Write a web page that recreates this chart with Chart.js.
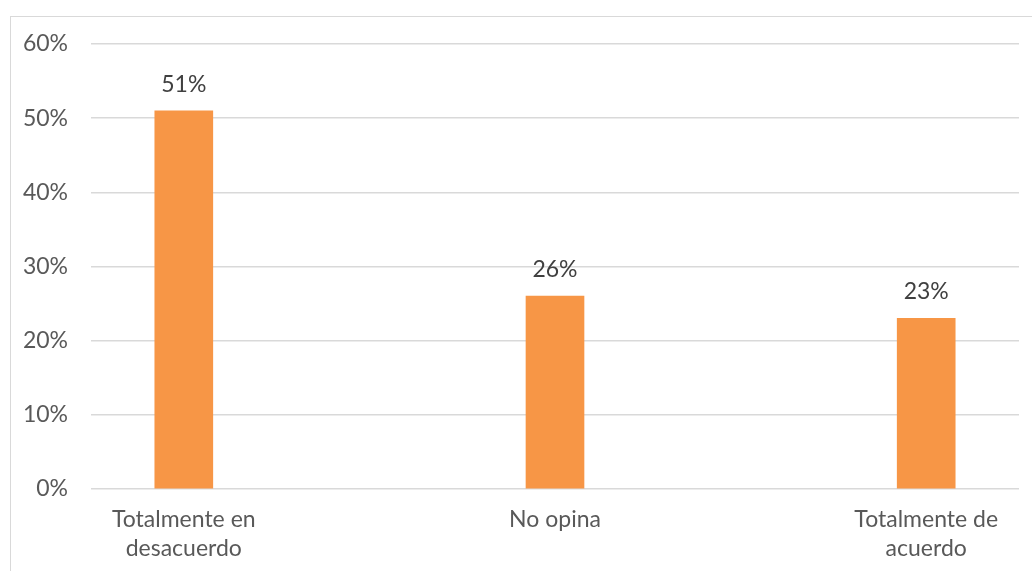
<!DOCTYPE html>
<html>
<head>
<meta charset="utf-8">
<script src="https://cdn.jsdelivr.net/npm/chart.js@4.4.1/dist/chart.umd.min.js"></script>
<style>
  html, body { margin: 0; padding: 0; background: #fff; overflow: hidden; }
  #frame { position: absolute; left: 10px; top: 16px; width: 1100px; height: 700px; border: 1.5px solid #d9d9d9; }
  #wrap { position: absolute; left: 0; top: 0; width: 1032px; height: 571px; }
</style>
</head>
<body>
<div id="frame"></div>
<div id="wrap"><canvas id="chart"></canvas></div>
<script>
const categories = [["Totalmente en", "desacuerdo"], ["No opina"], ["Totalmente de", "acuerdo"]];
const percents = [51, 26, 23];
const yTicks = [0, 10, 20, 30, 40, 50, 60];

const FONT = "Lato";

// labels above each bar
const valueLabels = {
  id: 'valueLabels',
  afterDatasetsDraw(chart) {
    const ctx = chart.ctx;
    const meta = chart.getDatasetMeta(0);
    ctx.save();
    ctx.font = '23px ' + FONT;
    ctx.fillStyle = '#404040';
    ctx.textAlign = 'center';
    ctx.textBaseline = 'alphabetic';
    meta.data.forEach((bar, i) => {
      ctx.fillText(percents[i] + '%', bar.x, bar.y - 19);
    });
    ctx.restore();
  }
};

new Chart(document.getElementById('chart'), {
  type: 'bar',
  data: {
    datasets: [{
      data: percents.map((v, i) => ({ x: i, y: v })),
      backgroundColor: '#F79646',
      barThickness: 58
    }]
  },
  options: {
    responsive: true,
    maintainAspectRatio: false,
    animation: false,
    layout: { padding: { top: 44, right: 13, left: 0, bottom: 0 } },
    plugins: { legend: { display: false }, tooltip: { enabled: false } },
    scales: {
      x: {
        type: 'linear',
        offset: false,
        min: -0.25,
        max: 2.25,
        afterBuildTicks: s => { s.ticks = categories.map((c, i) => ({ value: i })); },
        afterFit: s => { s.height = 82; },
        grid: { display: false, drawTicks: false },
        border: { display: false },
        ticks: {
          autoSkip: false,
          maxRotation: 0,
          padding: 17,
          color: '#595959',
          font: { family: FONT, size: 23, lineHeight: 1.22 },
          callback: v => categories[v]
        }
      },
      y: {
        min: 0,
        max: 60,
        afterBuildTicks: s => { s.ticks = yTicks.map(v => ({ value: v })); },
        afterFit: s => { s.width = 91; },
        grid: { color: '#d9d9d9', lineWidth: 1.5, drawTicks: false },
        border: { display: false },
        ticks: {
          padding: 23,
          color: '#595959',
          font: { family: FONT, size: 23 },
          callback: v => v + '%'
        }
      }
    }
  },
  plugins: [valueLabels]
});
</script>
</body>
</html>
